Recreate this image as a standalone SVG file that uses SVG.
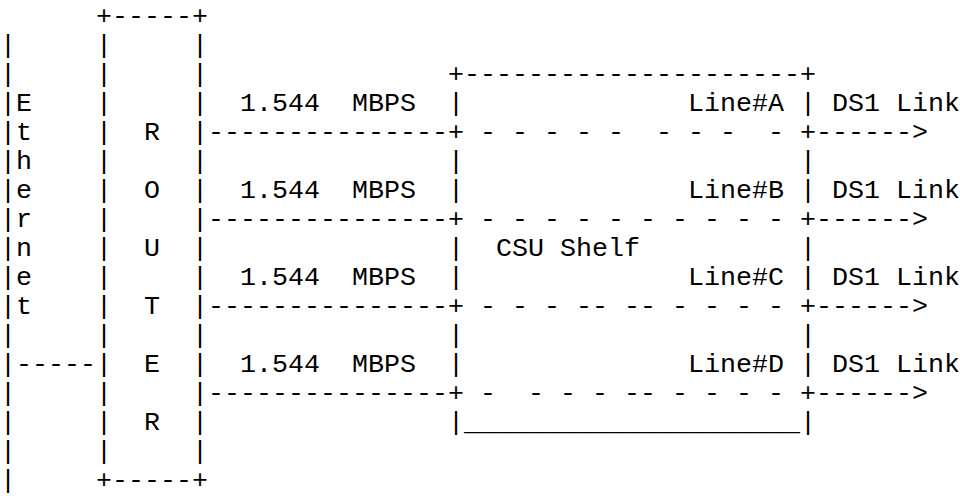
<svg xmlns="http://www.w3.org/2000/svg" width="960" height="496" viewBox="0 0 960 496">
<style>
.t{font-family:"Courier New","Liberation Mono","DejaVu Sans Mono",monospace;font-size:26.667px;fill:#000;white-space:pre}
</style>
<rect x="0" y="0" width="960" height="496" fill="#fff"/>
<g id="ethernet">
<text class="t" xml:space="preserve"><tspan x="0" y="52.5">|</tspan><tspan x="0" y="81.5">|</tspan><tspan x="0" y="110.5">|E</tspan><tspan x="0" y="139.5">|t</tspan><tspan x="0" y="168.5">|h</tspan><tspan x="0" y="197.5">|e</tspan><tspan x="0" y="226.5">|r</tspan><tspan x="0" y="255.5">|n</tspan><tspan x="0" y="284.5">|e</tspan><tspan x="0" y="313.5">|t</tspan><tspan x="0" y="342.5">|</tspan><tspan x="0" y="371.5">|-----</tspan><tspan x="0" y="400.5">|</tspan><tspan x="0" y="429.5">|</tspan><tspan x="0" y="458.5">|</tspan><tspan x="0" y="487.5">|</tspan></text>
</g>
<g id="router">
<text class="t" xml:space="preserve"><tspan x="96" y="23.5">+-----+</tspan><tspan x="96" y="52.5">|     |</tspan><tspan x="96" y="81.5">|     |</tspan><tspan x="96" y="110.5">|     |</tspan><tspan x="96" y="139.5">|  R  |</tspan><tspan x="96" y="168.5">|     |</tspan><tspan x="96" y="197.5">|  O  |</tspan><tspan x="96" y="226.5">|     |</tspan><tspan x="96" y="255.5">|  U  |</tspan><tspan x="96" y="284.5">|     |</tspan><tspan x="96" y="313.5">|  T  |</tspan><tspan x="96" y="342.5">|     |</tspan><tspan x="96" y="371.5">|  E  |</tspan><tspan x="96" y="400.5">|     |</tspan><tspan x="96" y="429.5">|  R  |</tspan><tspan x="96" y="458.5">|     |</tspan><tspan x="96" y="487.5">+-----+</tspan></text>
</g>
<g id="csu-shelf">
<text class="t" xml:space="preserve"><tspan x="448" y="81.5">+---------------------+</tspan><tspan x="448" y="110.5">|              Line#A |</tspan><tspan x="448" y="139.5">+ - - - - -  - - -  - +</tspan><tspan x="448" y="168.5">|                     |</tspan><tspan x="448" y="197.5">|              Line#B |</tspan><tspan x="448" y="226.5">+ - - - - - - - - - - +</tspan><tspan x="448" y="255.5">|  CSU Shelf          |</tspan><tspan x="448" y="284.5">|              Line#C |</tspan><tspan x="448" y="313.5">+ - - - -- -- - - - - +</tspan><tspan x="448" y="342.5">|                     |</tspan><tspan x="448" y="371.5">|              Line#D |</tspan><tspan x="448" y="400.5">+ -  - - - -- - - - - +</tspan><tspan x="448" y="429.5">|_____________________|</tspan></text>
</g>
<g id="connectors">
<text class="t" xml:space="preserve"><tspan x="240" y="110.5">1.544  MBPS</tspan><tspan x="208" y="139.5">---------------</tspan><tspan x="240" y="197.5">1.544  MBPS</tspan><tspan x="208" y="226.5">---------------</tspan><tspan x="240" y="284.5">1.544  MBPS</tspan><tspan x="208" y="313.5">---------------</tspan><tspan x="240" y="371.5">1.544  MBPS</tspan><tspan x="208" y="400.5">---------------</tspan></text>
<text class="t" xml:space="preserve"><tspan x="832" y="110.5">DS1 Link</tspan><tspan x="816" y="139.5">------&gt;</tspan><tspan x="832" y="197.5">DS1 Link</tspan><tspan x="816" y="226.5">------&gt;</tspan><tspan x="832" y="284.5">DS1 Link</tspan><tspan x="816" y="313.5">------&gt;</tspan><tspan x="832" y="371.5">DS1 Link</tspan><tspan x="816" y="400.5">------&gt;</tspan></text>
</g>
</svg>
